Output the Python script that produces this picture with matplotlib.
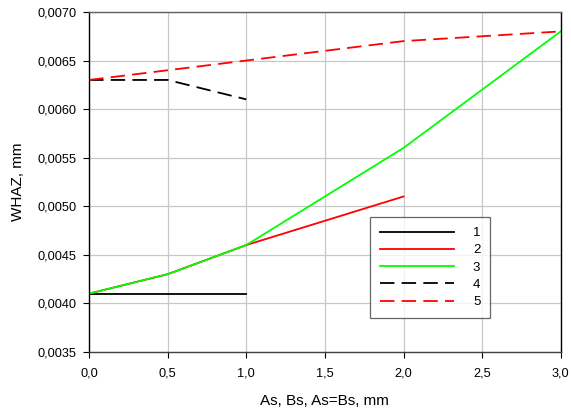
import matplotlib
matplotlib.use("Agg")
import matplotlib.pyplot as plt
from matplotlib.ticker import FuncFormatter, MultipleLocator

x1 = [0.0, 0.5, 1.0]
y1 = [0.0041, 0.0041, 0.0041]
x2 = [0.0, 0.5, 1.0, 2.0]
y2 = [0.0041, 0.0043, 0.0046, 0.0051]
x3 = [0.0, 0.5, 1.0, 2.0, 3.0]
y3 = [0.0041, 0.0043, 0.0046, 0.0056, 0.0068]
x4 = [0.0, 0.5, 1.0]
y4 = [0.0063, 0.0063, 0.0061]
x5 = [0.0, 0.5, 1.0, 2.0, 3.0]
y5 = [0.0063, 0.0064, 0.0065, 0.0067, 0.0068]
labels = ["1", "2", "3", "4", "5"]

plt.rcParams['font.family'] = ['Liberation Sans', 'DejaVu Sans']
fig = plt.figure(figsize=(5.71, 4.13), dpi=100)
ax = fig.add_axes([0.156, 0.148, 0.826, 0.823])

dash = (0, (8, 4))
ax.plot(x1, y1, color='black', lw=1.3, label=labels[0])
ax.plot(x2, y2, color='#ff0000', lw=1.3, label=labels[1])
ax.plot(x3, y3, color='#00ff00', lw=1.3, label=labels[2])
ax.plot(x4, y4, color='black', lw=1.3, linestyle=dash, label=labels[3])
ax.plot(x5, y5, color='#ff0000', lw=1.3, linestyle=dash, label=labels[4])

ax.set_xlim(0, 3)
ax.set_ylim(0.0035, 0.0070)
ax.xaxis.set_major_locator(MultipleLocator(0.5))
ax.yaxis.set_major_locator(MultipleLocator(0.0005))
ax.xaxis.set_major_formatter(FuncFormatter(lambda v, p: f"{v:.1f}".replace('.', ',')))
ax.yaxis.set_major_formatter(FuncFormatter(lambda v, p: f"{v:.4f}".replace('.', ',')))
ax.grid(True, color='#c8c8c8', lw=0.9)
ax.set_axisbelow(True)
ax.tick_params(direction='out', length=4, labelsize=9.2, colors='black', pad=5)
ax.tick_params(axis='x', pad=7)
for s in ['left', 'right']:
    ax.spines[s].set_color('black')
ax.spines['bottom'].set_color('#404040')
ax.spines['top'].set_color('#606060')
for s in ax.spines.values():
    s.set_linewidth(1.0)

ax.set_xlabel("As, Bs, As=Bs, mm", fontsize=11, labelpad=11)
ax.set_ylabel("WHAZ, mm", fontsize=11, labelpad=9)

leg = ax.legend(loc='upper left', bbox_to_anchor=(370/571, 1-217/413), bbox_transform=fig.transFigure,
                fontsize=9.5, frameon=True, fancybox=False, handlelength=5.6, handletextpad=1.45,
                labelspacing=0.38, borderpad=0.75, borderaxespad=0, markerfirst=True)
leg.get_frame().set_edgecolor('#404040')
leg.get_frame().set_linewidth(0.9)

fig.savefig("out.png", dpi=100)
